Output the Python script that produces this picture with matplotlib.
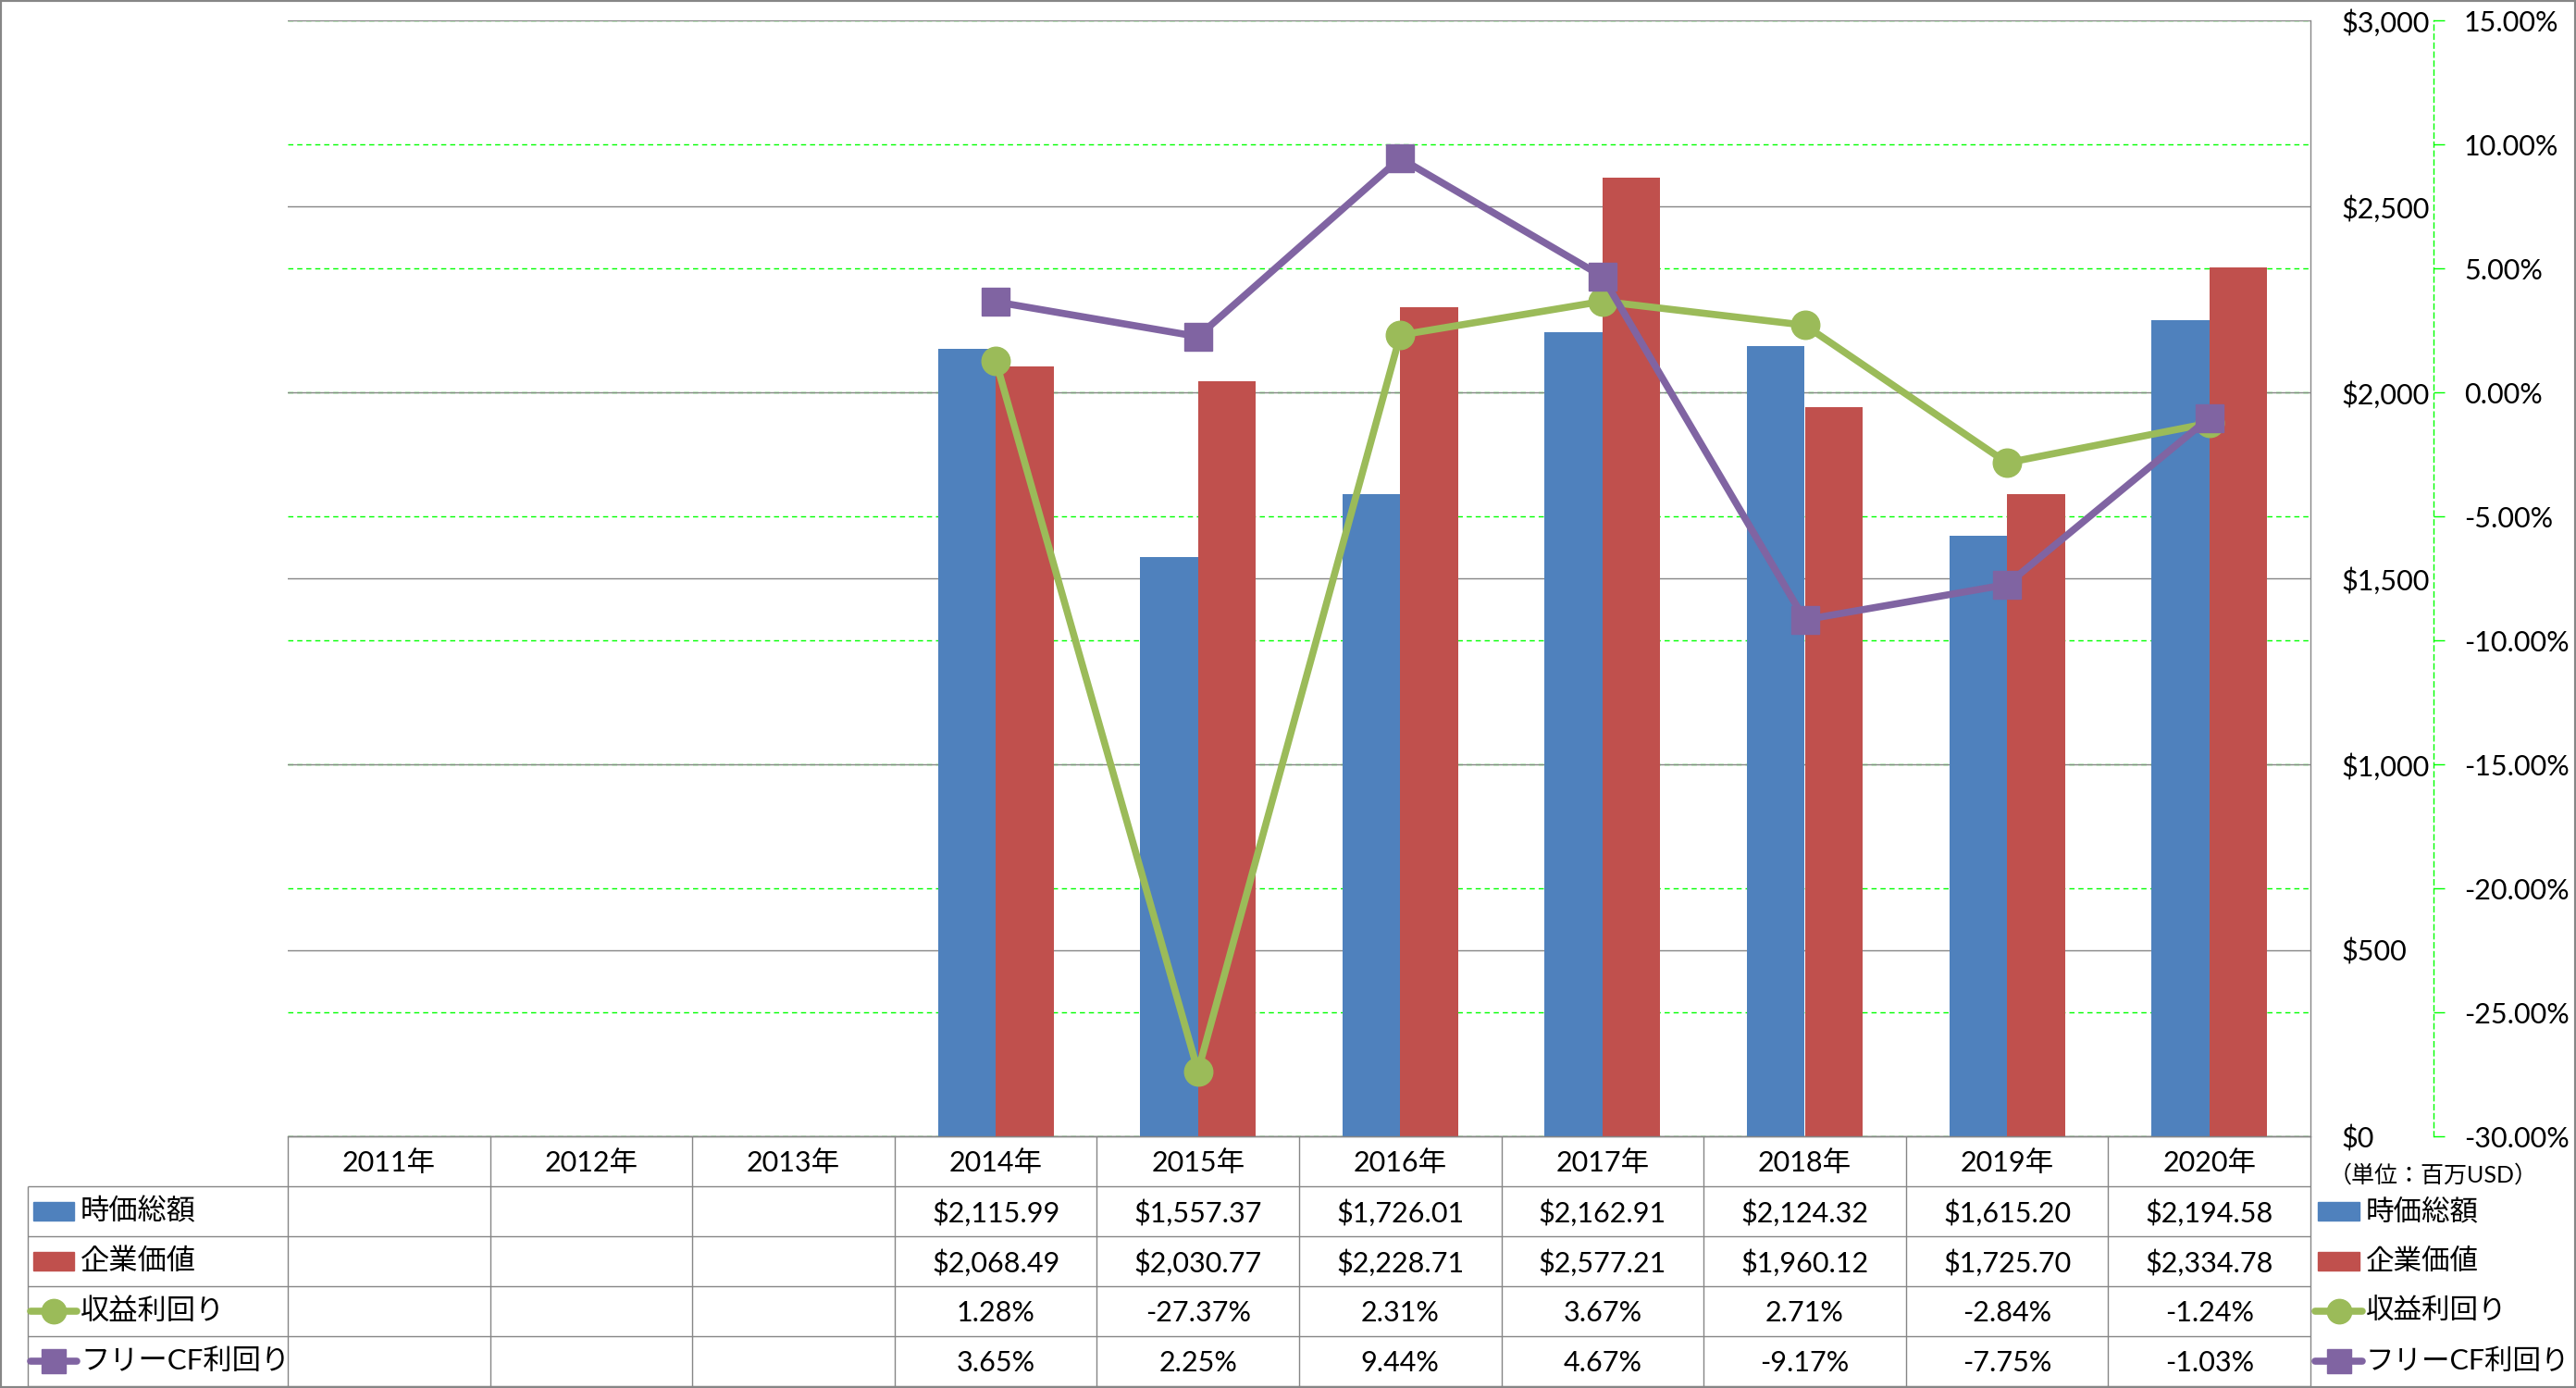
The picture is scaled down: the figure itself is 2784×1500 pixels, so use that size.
import numpy as np
import matplotlib
matplotlib.use('Agg')
import matplotlib.pyplot as plt
from matplotlib.lines import Line2D
from matplotlib.patches import Rectangle

plt.rcParams['font.family'] = ['Lato', 'Noto Sans CJK JP', 'DejaVu Sans']

# データ
years = ['2011年', '2012年', '2013年', '2014年', '2015年', '2016年', '2017年', '2018年', '2019年', '2020年']
market_cap = [np.nan, np.nan, np.nan, 2115.99, 1557.37, 1726.01, 2162.91, 2124.32, 1615.20, 2194.58]
enterprise_value = [np.nan, np.nan, np.nan, 2068.49, 2030.77, 2228.71, 2577.21, 1960.12, 1725.70, 2334.78]
earnings_yield = [np.nan, np.nan, np.nan, 1.28, -27.37, 2.31, 3.67, 2.71, -2.84, -1.24]
fcf_yield = [np.nan, np.nan, np.nan, 3.65, 2.25, 9.44, 4.67, -9.17, -7.75, -1.03]
series_names = ['時価総額', '企業価値', '収益利回り', 'フリーCF利回り']
usd_ticks = [0, 500, 1000, 1500, 2000, 2500, 3000]
pct_ticks = [-30, -25, -20, -15, -10, -5, 0, 5, 10, 15]
unit_label = '（単位：百万USD）'

BLUE, RED, GREEN, PURPLE = '#4F81BD', '#C0504D', '#9BBB59', '#8064A2'
GRID = '#868686'
LIME = '#00FF00'
LW = 5.5

W, H = 2784, 1500
PT = 72 / 100  # px -> pt


def fx(x):
    return x / W


def fy(y):
    return 1 - y / H


fig = plt.figure(figsize=(W / 100, H / 100), dpi=100)
rect = [fx(311), fy(1228), (2497 - 311) / W, (1228 - 22) / H]
x = np.arange(len(years))

# --- % 軸 (緑の破線グリッド) ---
ax_pct = fig.add_axes(rect, zorder=0)
ax_pct.set_xlim(-0.5, len(years) - 0.5)
ax_pct.set_ylim(-30, 15)
ax_pct.set_xticks([])
ax_pct.yaxis.tick_right()
ax_pct.set_yticks(pct_ticks, [f'{t:.2f}%' for t in pct_ticks])
for lab, t in zip(ax_pct.get_yticklabels(), pct_ticks):
    lab.set_color('red' if t < 0 else 'black')
ax_pct.tick_params(axis='y', direction='out', length=12 * PT, width=1, color=LIME,
                   pad=21 * PT, labelsize=22)
ax_pct.grid(axis='y', color=LIME, lw=1, linestyle=(0, (4, 3)))
for s in ['left', 'top', 'bottom']:
    ax_pct.spines[s].set_visible(False)
ax_pct.spines['right'].set_position(('axes', (2630 - 311) / (2497 - 311)))
ax_pct.spines['right'].set_color(LIME)
ax_pct.spines['right'].set_linestyle((0, (4, 3)))
ax_pct.spines['right'].set_linewidth(1)

# --- $ 軸 (棒グラフ) ---
ax_usd = fig.add_axes(rect, zorder=1)
ax_usd.patch.set_visible(False)
ax_usd.set_xlim(-0.5, len(years) - 0.5)
ax_usd.set_ylim(0, 3000)
ax_usd.set_xticks([])
ax_usd.yaxis.tick_right()
ax_usd.set_yticks(usd_ticks, [f'${t:,}' for t in usd_ticks])
ax_usd.tick_params(axis='y', length=0, pad=33 * PT, labelsize=22)
ax_usd.set_axisbelow(True)
ax_usd.grid(axis='y', color=GRID, lw=1)
for s in ['left', 'top']:
    ax_usd.spines[s].set_visible(False)
for s in ['right', 'bottom']:
    ax_usd.spines[s].set_color(GRID)
    ax_usd.spines[s].set_linewidth(1)

bw = 1 / 3.5
ax_usd.bar(x - bw / 2, market_cap, bw, color=BLUE, zorder=2)
ax_usd.bar(x + bw / 2, enterprise_value, bw, color=RED, zorder=2)

# --- 折れ線 ---
ax_line = fig.add_axes(rect, zorder=2)
ax_line.patch.set_visible(False)
ax_line.axis('off')
ax_line.set_xlim(-0.5, len(years) - 0.5)
ax_line.set_ylim(-30, 15)
ax_line.plot(x, earnings_yield, color=GREEN, lw=LW, marker='o', ms=22, mfc=GREEN, mec=GREEN)
ax_line.plot(x, fcf_yield, color=PURPLE, lw=LW, marker='s', ms=21.5, mfc=PURPLE, mec=PURPLE)

# --- データテーブル ---
ax_tab = fig.add_axes([fx(311), fy(1498), (2497 - 311) / W, (1498 - 1228) / H])
ax_tab.set_xlim(-0.5, len(years) - 0.5)
ax_tab.set_ylim(5, 0)
ax_tab.axis('off')
unit = (2497 - 311) / len(years)
x_left = -0.5 - (311 - 30) / unit

for xb in np.arange(-0.5, len(years)):
    ax_tab.vlines(xb, 0, 5, color=GRID, lw=1, clip_on=False)
ax_tab.vlines(x_left, 1, 5, color=GRID, lw=1, clip_on=False)
ax_tab.hlines(0, -0.5, len(years) - 0.5, color=GRID, lw=1, clip_on=False)
for rb in range(1, 6):
    ax_tab.hlines(rb, x_left, len(years) - 0.5, color=GRID, lw=1, clip_on=False)

for i, yr in enumerate(years):
    ax_tab.text(i, 0.53, yr, ha='center', va='center', fontsize=22)

rows = [
    [f'${v:,.2f}' if not np.isnan(v) else '' for v in market_cap],
    [f'${v:,.2f}' if not np.isnan(v) else '' for v in enterprise_value],
    [f'{v:.2f}%' if not np.isnan(v) else '' for v in earnings_yield],
    [f'{v:.2f}%' if not np.isnan(v) else '' for v in fcf_yield],
]
for r, row in enumerate(rows):
    for i, s in enumerate(row):
        ax_tab.text(i, r + 1.54, s, ha='center', va='center', fontsize=22)

# --- 凡例 (左列と右側) ---
row_centers = [1228 + (r + 1.5) * 54 for r in range(4)]
styles = [('bar', BLUE, None), ('bar', RED, None), ('line', GREEN, 'o'), ('line', PURPLE, 's')]


def draw_key(x0, x1, yc, style):
    kind, color, mk = style
    if kind == 'bar':
        fig.add_artist(Rectangle((fx(x0), fy(yc + 10)), (x1 - x0) / W, 20 / H,
                                 transform=fig.transFigure, color=color))
    else:
        fig.add_artist(Line2D([fx(x0 - 3), fx(x1 + 3)], [fy(yc), fy(yc)], transform=fig.transFigure,
                              color=color, lw=LW, solid_capstyle='round'))
        fig.add_artist(Line2D([fx((x0 + x1) / 2)], [fy(yc)], transform=fig.transFigure,
                              marker=mk, ms=19, color=color, lw=0))


for name, yc, st in zip(series_names, row_centers, styles):
    draw_key(36, 80, yc, st)
    fig.text(fx(87), fy(yc), name, ha='left', va='center', fontsize=22.5)
    draw_key(2505, 2550, yc, st)
    fig.text(fx(2557), fy(yc), name, ha='left', va='center', fontsize=22)

fig.text(fx(2630), fy(1270), unit_label, ha='center', va='center', fontsize=18)

# 外枠
fig.add_artist(Rectangle((0, 0), 1, 1, transform=fig.transFigure, fill=False,
                         edgecolor=GRID, lw=3))

fig.savefig('out.png', dpi=100)
